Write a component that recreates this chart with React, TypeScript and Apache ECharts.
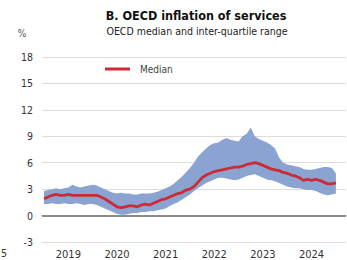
import React, { useEffect, useRef } from "react";
import * as echarts from "echarts";

const months: string[] = [];
for (let y = 2019; y <= 2025; y++) {
  for (let m = 1; m <= 12; m++) {
    if (y === 2025 && m > 3) break;
    months.push(`${y}-${String(m).padStart(2, "0")}`);
  }
}

const median = [
  1.9, 2.1, 2.3, 2.4, 2.3, 2.3, 2.4, 2.3, 2.3, 2.3, 2.3, 2.3,
  2.3, 2.3, 2.1, 1.9, 1.6, 1.3, 1.0, 0.9, 1.0, 1.1, 1.1, 1.0,
  1.2, 1.3, 1.2, 1.4, 1.6, 1.8, 1.9, 2.1, 2.3, 2.5, 2.6, 2.9,
  3.0, 3.3, 3.8, 4.3, 4.6, 4.8, 5.0, 5.1, 5.2, 5.3, 5.4, 5.5,
  5.5, 5.6, 5.8, 5.9, 6.0, 5.9, 5.7, 5.5, 5.3, 5.2, 5.1, 4.9,
  4.8, 4.6, 4.5, 4.3, 4.0, 4.1, 4.0, 4.1, 4.0, 3.8, 3.6, 3.6,
  3.7,
];

const upper = [
  2.8, 2.9, 3.0, 3.1, 3.0, 3.1, 3.2, 3.5, 3.3, 3.2, 3.3, 3.4,
  3.5, 3.4, 3.2, 3.0, 2.8, 2.6, 2.5, 2.6, 2.5, 2.5, 2.4, 2.4,
  2.5, 2.5, 2.5, 2.6, 2.7, 2.9, 3.1, 3.3, 3.6, 4.0, 4.4, 4.9,
  5.4, 6.0, 6.7, 7.2, 7.6, 8.0, 8.2, 8.3, 8.6, 8.8, 8.6, 8.5,
  8.4, 9.0, 9.3, 10.0, 9.0, 8.7, 8.5, 8.3, 8.0, 7.6, 6.6, 6.0,
  5.8, 5.7, 5.6, 5.5, 5.3, 5.2, 5.2, 5.3, 5.4, 5.5, 5.5, 5.4,
  4.8,
];

const lower = [
  1.3, 1.3, 1.4, 1.3, 1.3, 1.4, 1.3, 1.3, 1.4, 1.3, 1.2, 1.3,
  1.3, 1.2, 1.0, 0.8, 0.6, 0.4, 0.2, 0.1, 0.1, 0.2, 0.3, 0.3,
  0.4, 0.4, 0.5, 0.5, 0.6, 0.7, 0.8, 1.1, 1.3, 1.5, 1.8, 2.1,
  2.4, 2.8, 3.1, 3.4, 3.7, 3.9, 4.1, 4.3, 4.3, 4.2, 4.1, 4.0,
  4.1, 4.3, 4.5, 4.6, 4.7, 4.5, 4.3, 4.1, 4.0, 3.9, 3.7, 3.5,
  3.3, 3.2, 3.1, 3.1, 3.0, 2.9, 2.9, 2.8, 2.6, 2.4, 2.3, 2.4,
  2.5,
];

const bandWidth = upper.map((u, i) => +(u - lower[i]).toFixed(2));

const FONT = "'Liberation Sans Narrow', 'DejaVu Sans Condensed', Arial, sans-serif";

export default function App() {
  const ref = useRef<HTMLDivElement>(null);
  useEffect(() => {
    if (!ref.current) return;
    const chart = echarts.init(ref.current, null, { renderer: "svg" });
    chart.setOption({
      animation: false,
      backgroundColor: "#ffffff",
      textStyle: { fontFamily: FONT },
      grid: { left: 42, right: 1, top: 57, bottom: 14 },
      legend: {
        left: 100,
        top: 59,
        icon: "rect",
        itemWidth: 25,
        itemHeight: 3,
        data: ["Median"],
        textStyle: { fontFamily: FONT, fontSize: 10, color: "#444", padding: [0, 0, 0, 5] },
      },
      graphic: [
        {
          type: "text",
          x: 196,
          y: 15,
          style: {
            text: "B. OECD inflation of services",
            font: `bold 12.5px ${FONT}`,
            fill: "#111",
            textAlign: "center",
            textVerticalAlign: "middle",
          },
        },
        {
          type: "text",
          x: 197,
          y: 31,
          style: {
            text: "OECD median and inter-quartile range",
            font: `10.5px ${FONT}`,
            fill: "#222",
            textAlign: "center",
            textVerticalAlign: "middle",
          },
        },
        {
          type: "text",
          x: 22,
          y: 33,
          style: { text: "%", font: `10px ${FONT}`, fill: "#555", textAlign: "center", textVerticalAlign: "middle" },
        },
        {
          type: "text",
          x: 4,
          y: 253,
          style: { text: "5", font: `10.5px ${FONT}`, fill: "#333", textAlign: "center", textVerticalAlign: "middle" },
        },
      ],
      xAxis: [
        {
          type: "category",
          data: months,
          boundaryGap: true,
          axisLine: { lineStyle: { color: "#9a9a9a", width: 1 } },
          axisTick: {
            inside: true,
            length: 4,
            lineStyle: { color: "#9a9a9a" },
            interval: (i: number) => i % 12 === 0,
          },
          axisLabel: {
            interval: (i: number) => i % 12 === 6,
            formatter: (v: string) => v.slice(0, 4),
            fontFamily: FONT,
            fontSize: 11,
            color: "#333",
            margin: 7,
          },
          splitLine: { show: false },
        },
        {
          type: "category",
          data: months,
          boundaryGap: true,
          position: "bottom",
          axisLine: { show: false },
          axisTick: {
            inside: true,
            length: 2,
            lineStyle: { color: "#b0b0b0" },
            interval: (i: number) => i % 3 === 0 && i % 12 !== 0,
          },
          axisLabel: { show: false },
          splitLine: { show: false },
        },
      ],
      yAxis: {
        type: "value",
        min: -3,
        max: 18,
        interval: 3,
        axisLine: { show: false },
        axisTick: { show: false },
        axisLabel: { fontFamily: FONT, fontSize: 10.5, color: "#333", margin: 9 },
        splitLine: { lineStyle: { color: "#dcdcdc", width: 1 } },
      },
      series: [
        {
          name: "lower",
          type: "line",
          data: lower,
          stack: "band",
          symbol: "none",
          lineStyle: { opacity: 0 },
          silent: true,
          markLine: {
            silent: true,
            symbol: "none",
            label: { show: false },
            lineStyle: { color: "#8c8c8c", width: 2, type: "solid" },
            data: [{ yAxis: 0 }],
          },
        },
        {
          name: "IQR",
          type: "line",
          data: bandWidth,
          stack: "band",
          symbol: "none",
          lineStyle: { opacity: 0 },
          areaStyle: { color: "#8aa3d0", opacity: 1 },
          silent: true,
        },
        {
          name: "Median",
          type: "line",
          data: median,
          symbol: "none",
          color: "#cc2b36",
          lineStyle: { color: "#cc2b36", width: 2.8 },
          z: 5,
        },
      ],
    });
    return () => chart.dispose();
  }, []);
  return <div ref={ref} style={{ width: 347, height: 260, position: "absolute", left: 0, top: 0 }} />;
}
